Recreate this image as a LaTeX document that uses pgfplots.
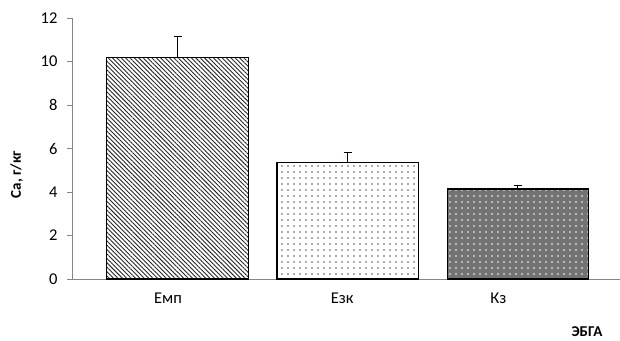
\documentclass[border=0pt]{standalone}
\usepackage{pgfplots}
\pgfplotsset{compat=1.18}
\usepackage{fontspec}
\setmainfont{Carlito}
\usetikzlibrary{patterns,patterns.meta}
\definecolor{axgray}{HTML}{868686}
\begin{document}
\begin{tikzpicture}[x=1pt,y=1pt]
\path[use as bounding box] (0,0) rectangle (620,340);
\begin{axis}[
  at={(72pt,61pt)}, anchor=south west,
  scale only axis, width=548pt, height=261pt,
  xmin=-0.62, xmax=2.6, ymin=0, ymax=12,
  axis lines*=left,
  axis line style={axgray, line width=1pt},
  xtick={-0.056,0.968,1.885}, xticklabels={Емп,Езк,Кз},
  xtick style={draw=none},
  ytick={0,2,...,12},
  y tick style={axgray, line width=0.8pt},
  tick align=outside,
  major tick length=5pt,
  xticklabel style={font=\fontsize{16.5}{16.5}\selectfont, yshift=-5pt},
  yticklabel style={font=\fontsize{16.5}{16.5}\selectfont, xshift=-6pt},
  /pgf/number format/assume math mode=true,
  ylabel={\bfseries Ca, г/кг},
  ylabel style={font=\fontsize{15}{15}\selectfont, at={(axis description cs:-0.101,0.40)}, anchor=center},
  ybar, bar width=0.83, bar shift=0pt,
  clip=false,
  error bars/y dir=plus, error bars/y explicit,
  error bars/error bar style={black, line width=1pt},
  error bars/error mark options={black, line width=1pt, mark size=4pt, rotate=90},
]
\addplot[draw=black, line width=1.2pt,
  pattern={Lines[angle=-45,distance=3.1pt,line width=0.9pt]}, pattern color=black!85]
  coordinates {(0,10.2) +- (0,0.97)};
\addplot[draw=black, line width=1.2pt, fill=white,
  postaction={pattern={Dots[distance=6pt,radius=0.9pt]}, pattern color=black!65}]
  coordinates {(1,5.37) +- (0,0.45)};
\addplot[draw=black, line width=1.2pt, fill=black!55,
  postaction={pattern={Dots[distance=6pt,radius=0.8pt]}, pattern color=white}]
  coordinates {(2,4.14) +- (0,0.16)};
\end{axis}
\node[font=\bfseries\fontsize{15}{15}\selectfont, anchor=base] at (587,4) {ЭБГА};
\end{tikzpicture}
\end{document}
